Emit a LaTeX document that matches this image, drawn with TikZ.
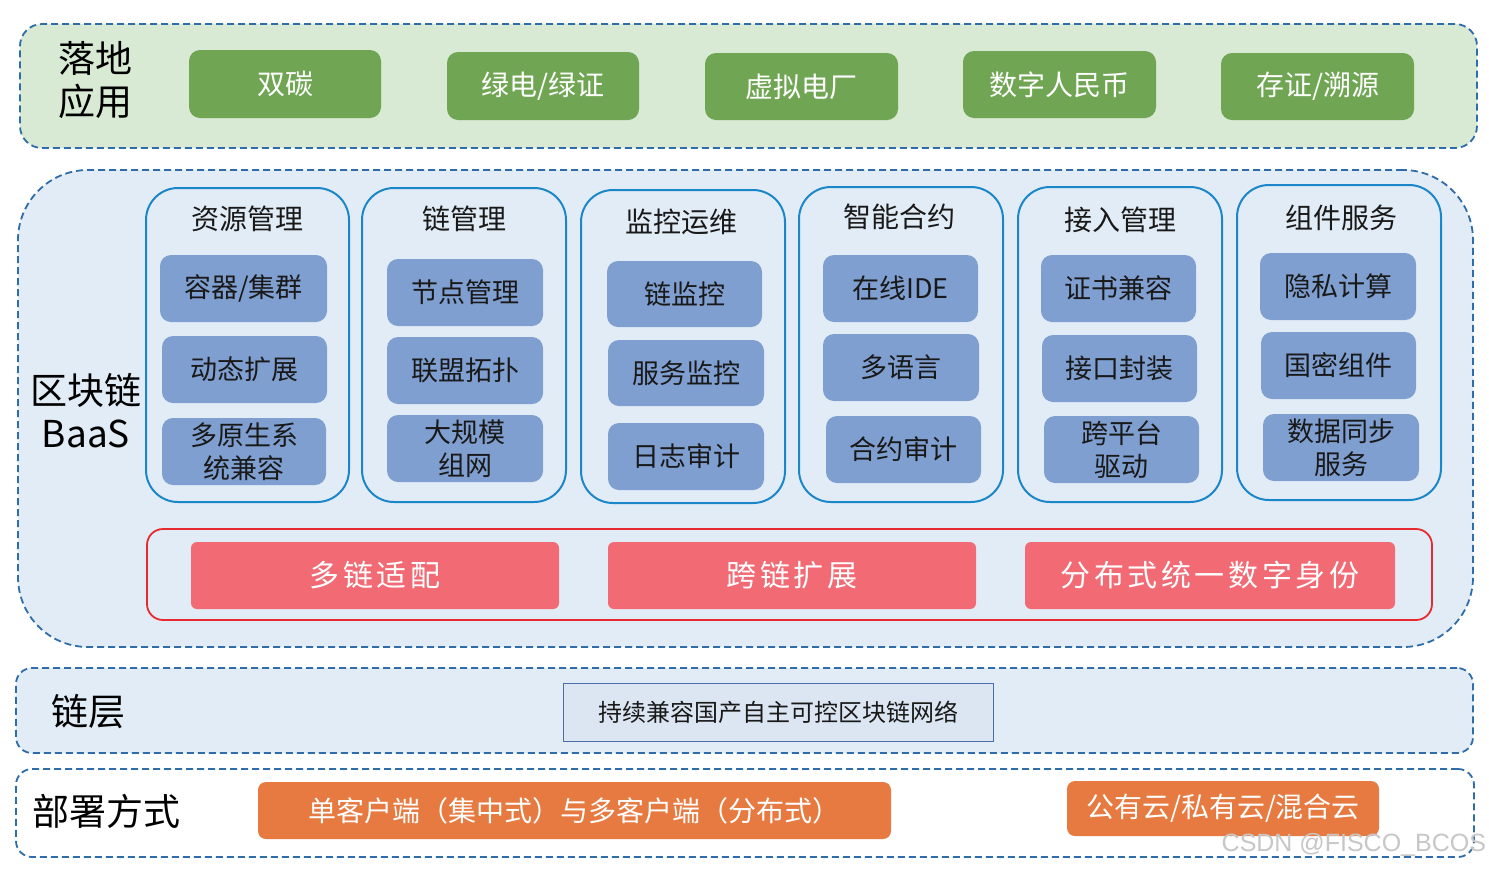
\documentclass[tikz,border=0pt]{standalone}
\usepackage{fontspec}
\setmainfont{Noto Sans CJK SC}
\newfontfamily\wmfont{Liberation Sans}

\definecolor{dashblue}{RGB}{46,109,170}
\definecolor{appfill}{RGB}{216,233,212}
\definecolor{appgreen}{RGB}{112,166,83}
\definecolor{baasfill}{RGB}{226,236,246}
\definecolor{colblue}{RGB}{27,135,201}
\definecolor{itemblue}{RGB}{127,159,208}
\definecolor{redline}{RGB}{231,42,47}
\definecolor{redfill}{RGB}{241,106,116}
\definecolor{chainline}{RGB}{74,111,168}
\definecolor{chainfill}{RGB}{220,230,242}
\definecolor{deporange}{RGB}{230,122,64}
\definecolor{textdark}{RGB}{25,25,25}

% box from corner (x1,y1) to corner (x2,y2), in pixels measured downwards
\newcommand\blk[7]{%
  \node[#2, minimum width={(#5-#3)*1pt}, minimum height={(#6-#4)*1pt}]
    (#1) at ({(#3+#5)/2},{(#4+#6)/2}) {#7};}

\begin{document}
\begin{tikzpicture}[x=1pt,y=-1pt,
  every node/.style={inner sep=0pt, outer sep=0pt},
  layerbox/.style={draw=dashblue, line width=1.8pt, dash pattern=on 7pt off 4pt},
  biglabel/.style={text=black, font=\fontsize{37}{43}\selectfont, align=center},
  appbtn/.style={fill=appgreen, rounded corners=11pt, text=white,
    font=\fontsize{28}{32}\selectfont},
  colbox/.style={draw=colblue, line width=2pt, fill=baasfill, rounded corners=32pt},
  coltitle/.style={text=textdark, font=\fontsize{28}{32}\selectfont},
  itembox/.style={fill=itemblue, rounded corners=11pt, text=textdark, align=center,
    font=\fontsize{27}{33}\selectfont},
  redbtn/.style={fill=redfill, rounded corners=6pt, text=white,
    font=\fontsize{30}{34}\selectfont\addfontfeature{LetterSpace=12}},
  orangebtn/.style={fill=deporange, rounded corners=8pt, text=white,
    font=\fontsize{28}{32}\selectfont},
]
\useasboundingbox[fill=white] (0,0) rectangle (1489,871);

% ---- application layer ----
\blk{applayer}{layerbox, fill=appfill, rounded corners=22pt}{20}{24}{1477}{148}{}
\node[biglabel] (applbl) at (95,80) {落地\\应用};
\blk{app1}{appbtn}{189}{50}{381}{118}{双碳}
\blk{app2}{appbtn}{447}{52}{639}{120}{绿电/绿证}
\blk{app3}{appbtn}{705}{53}{898}{120}{虚拟电厂}
\blk{app4}{appbtn}{963}{51}{1156}{118}{数字人民币}
\blk{app5}{appbtn}{1221}{53}{1414}{120}{存证/溯源}

% ---- BaaS layer ----
\blk{baaslayer}{layerbox, fill=baasfill, rounded corners=70pt}{18}{170}{1473}{647}{}
\node[biglabel] (baaslbl) at (86,411) {区块链\\BaaS};

\blk{c1}{colbox}{146}{188}{349}{502}{}
\blk{c2}{colbox}{362}{188}{566}{502}{}
\blk{c3}{colbox}{581}{190}{785}{503}{}
\blk{c4}{colbox}{799}{187}{1003}{502}{}
\blk{c5}{colbox}{1018}{187}{1222}{502}{}
\blk{c6}{colbox}{1237}{185}{1441}{500}{}

\node[coltitle] (t1) at (247,219) {资源管理};
\node[coltitle] (t2) at (464,219) {链管理};
\node[coltitle] (t3) at (681,222) {监控运维};
\node[coltitle] (t4) at (899,217) {智能合约};
\node[coltitle] (t5) at (1120,220) {接入管理};
\node[coltitle] (t6) at (1341,218) {组件服务};

\blk{i11}{itembox}{160}{255}{327}{322}{容器/集群}
\blk{i12}{itembox}{162}{336}{327}{403}{动态扩展}
\blk{i13}{itembox}{162}{418}{326}{485}{多原生系\\统兼容}

\blk{i21}{itembox}{387}{259}{543}{326}{节点管理}
\blk{i22}{itembox}{387}{337}{543}{404}{联盟拓扑}
\blk{i23}{itembox}{387}{415}{543}{482}{大规模\\组网}

\blk{i31}{itembox}{607}{261}{762}{327}{链监控}
\blk{i32}{itembox}{608}{340}{764}{406}{服务监控}
\blk{i33}{itembox}{608}{423}{764}{490}{日志审计}

\blk{i41}{itembox}{823}{255}{978}{322}{在线IDE}
\blk{i42}{itembox}{823}{334}{979}{401}{多语言}
\blk{i43}{itembox}{826}{416}{981}{483}{合约审计}

\blk{i51}{itembox}{1041}{255}{1196}{322}{证书兼容}
\blk{i52}{itembox}{1042}{335}{1197}{402}{接口封装}
\blk{i53}{itembox}{1044}{416}{1199}{483}{跨平台\\驱动}

\blk{i61}{itembox}{1260}{253}{1416}{320}{隐私计算}
\blk{i62}{itembox}{1261}{332}{1416}{399}{国密组件}
\blk{i63}{itembox}{1263}{414}{1419}{481}{数据同步\\服务}

% cross-chain strip
\blk{redstrip}{draw=redline, line width=1.8pt, fill=baasfill, rounded corners=16pt}{147}{529}{1432}{620}{}
\blk{r1}{redbtn}{191}{542}{559}{609}{多链适配}
\blk{r2}{redbtn}{608}{542}{976}{609}{跨链扩展}
\blk{r3}{redbtn}{1025}{542}{1395}{609}{分布式统一数字身份}

% ---- chain layer ----
\blk{chainlayer}{layerbox, fill=baasfill, rounded corners=16pt}{16}{668}{1473}{753}{}
\node[biglabel] (chainlbl) at (88,712) {链层};
\blk{chainnet}{draw=chainline, line width=1pt, fill=chainfill, text=textdark,
  font=\fontsize{24}{28}\selectfont}{563}{683}{993}{741}{持续兼容国产自主可控区块链网络}

% ---- deployment layer ----
\blk{deplayer}{layerbox, rounded corners=16pt}{16}{769}{1474}{857}{}
\node[biglabel] (deplbl) at (106,811) {部署方式};
\blk{d1}{orangebtn}{258}{782}{891}{839}{单客户端（集中式）与多客户端（分布式）}
\blk{d2}{orangebtn}{1067}{781}{1379}{836}{公有云/私有云/混合云}

\node[text=black!22, font=\wmfont\fontsize{25}{28}\selectfont, anchor=east] (wm) at (1486,845) {CSDN @FISCO\_BCOS};
\end{tikzpicture}
\end{document}
